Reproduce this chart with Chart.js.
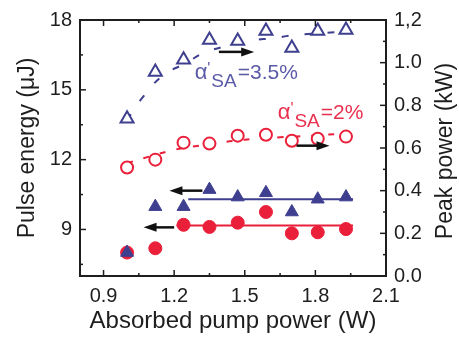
<!DOCTYPE html>
<html>
<head>
<meta charset="utf-8">
<script src="https://cdn.jsdelivr.net/npm/chart.js@4.4.1/dist/chart.umd.min.js"></script>
<style>
  html, body { margin: 0; padding: 0; background: #fff; }
  #wrap { width: 459px; height: 340px; }
</style>
</head>
<body>
<div id="wrap"><canvas id="chart"></canvas></div>
<script>
// measured points
const pumpPower = [1.0, 1.12, 1.24, 1.35, 1.47, 1.59, 1.70, 1.81, 1.93];
const energy35 = [13.76, 15.77, 16.29, 17.14, 17.1, 17.53, 16.8, 17.53, 17.57];
const energy2 = [11.66, 12.0, 12.73, 12.69, 13.03, 13.07, 12.81, 12.9, 12.99];
const peak35 = [0.11, 0.325, 0.325, 0.405, 0.37, 0.39, 0.30, 0.36, 0.37];
const peak2 = [0.11, 0.13, 0.24, 0.23, 0.25, 0.30, 0.20, 0.205, 0.22];

// fitted curves
const fitX35 = [1.0, 1.06, 1.15, 1.25, 1.33, 1.45, 1.53, 1.62, 1.71, 1.8, 1.93];
const fitY35 = [13.7, 14.6, 15.6, 16.15, 16.6, 16.95, 17.12, 17.22, 17.35, 17.42, 17.5];
const fitX2 = [1.0, 1.1, 1.2, 1.28, 1.38, 1.45, 1.55, 1.65, 1.79, 1.89, 1.95];
const fitY2 = [11.85, 12.15, 12.42, 12.56, 12.7, 12.8, 12.9, 12.96, 13.03, 13.1, 13.12];
const flatX35 = [1.26, 1.96];
const flatY35 = [0.36, 0.36];
const flatX2 = [1.21, 1.96];
const flatY2 = [0.237, 0.237];

const xTicks = [0.9, 1.2, 1.5, 1.8, 2.1];
const energyTicks = [9, 12, 15, 18];
const peakTicks = [0, 0.2, 0.4, 0.6, 0.8, 1.0, 1.2];

const BLUE = '#3f3f8f';
const RED = '#ea1f3a';
const FONT = '"Liberation Sans", Arial, sans-serif';
const INK = '#1e1e1e';

const pts = (xs, ys) => xs.map((x, i) => ({ x: x, y: ys[i] }));

// arrows and labels, in data units
const arrows = [
  { axis: 'y', x1: 1.39, x2: 1.54, y: 16.63 },
  { axis: 'y', x1: 1.72, x2: 1.86, y: 12.6 },
  { axis: 'y2', x1: 1.32, x2: 1.18, y: 0.40 },
  { axis: 'y2', x1: 1.20, x2: 1.07, y: 0.228 }
];
const labels = [
  { x: 1.287, y: 15.47, color: '#5a5aa8', text: '=3.5%' },
  { x: 1.640, y: 13.76, color: '#e8304e', text: '=2%' }
];

const decor = {
  id: 'decor',
  afterDraw(chart) {
    const ctx = chart.ctx;
    const a = chart.chartArea;
    const sx = chart.scales.x, sy = chart.scales.y, sy2 = chart.scales.y2;
    ctx.save();
    ctx.strokeStyle = INK;
    ctx.lineWidth = 1.5;
    const tick = (x1, y1, x2, y2) => { ctx.beginPath(); ctx.moveTo(x1, y1); ctx.lineTo(x2, y2); ctx.stroke(); };
    xTicks.forEach((v, i) => {
      const px = sx.getPixelForValue(v);
      tick(px, a.bottom, px, a.bottom - 6);
      tick(px, a.top, px, a.top + 6);
      if (i > 0) {
        const mx = sx.getPixelForValue((v + xTicks[i - 1]) / 2);
        tick(mx, a.bottom, mx, a.bottom - 3);
        tick(mx, a.top, mx, a.top + 3);
      }
    });
    energyTicks.forEach(v => {
      const py = sy.getPixelForValue(v);
      tick(a.left, py, a.left + 6, py);
      const my = sy.getPixelForValue(v - 1.5);
      tick(a.left, my, a.left + 3, my);
    });
    peakTicks.forEach((v, i) => {
      const py = sy2.getPixelForValue(v);
      tick(a.right, py, a.right - 6, py);
      if (i > 0) {
        const my = sy2.getPixelForValue((v + peakTicks[i - 1]) / 2);
        tick(a.right, my, a.right - 3, my);
      }
    });
    ctx.lineWidth = 2;
    ctx.strokeRect(a.left, a.top, a.right - a.left, a.bottom - a.top);

    // arrows
    ctx.fillStyle = '#111';
    ctx.strokeStyle = '#111';
    ctx.lineWidth = 2.5;
    arrows.forEach(ar => {
      const s = chart.scales[ar.axis];
      const x1 = sx.getPixelForValue(ar.x1), x2 = sx.getPixelForValue(ar.x2);
      const y = s.getPixelForValue(ar.y);
      const dir = x2 > x1 ? 1 : -1;
      tick(x1, y, x2 - dir * 10, y);
      ctx.beginPath();
      ctx.moveTo(x2, y);
      ctx.lineTo(x2 - dir * 13, y - 4.5);
      ctx.lineTo(x2 - dir * 13, y + 4.5);
      ctx.closePath();
      ctx.fill();
    });

    // alpha'_SA labels
    labels.forEach(lb => {
      let x = sx.getPixelForValue(lb.x);
      const y = sy.getPixelForValue(lb.y);
      ctx.fillStyle = lb.color;
      ctx.textBaseline = 'alphabetic';
      ctx.textAlign = 'left';
      ctx.font = '22px ' + FONT;
      ctx.fillText('\u03b1', x, y);
      x += ctx.measureText('\u03b1').width;
      ctx.font = '16px ' + FONT;
      ctx.fillText("'", x, y - 5);
      x += 4;
      ctx.font = '19px ' + FONT;
      ctx.fillText('SA', x, y + 8);
      x += ctx.measureText('SA').width + 1;
      ctx.font = '21px ' + FONT;
      ctx.fillText(lb.text, x, y);
    });

    // right axis title, reading bottom to top
    ctx.fillStyle = INK;
    ctx.font = '23px ' + FONT;
    ctx.textAlign = 'center';
    ctx.textBaseline = 'middle';
    ctx.translate(446, (a.top + a.bottom) / 2 + 3);
    ctx.rotate(-Math.PI / 2);
    ctx.fillText('Peak power (kW)', 0, 0);
    ctx.restore();
  }
};

const tickFont = { family: FONT, size: 20 };

new Chart(document.getElementById('chart'), {
  type: 'scatter',
  data: {
    datasets: [
      {
        label: 'peak 3.5%', data: pts(pumpPower, peak35), yAxisID: 'y2',
        pointStyle: 'triangle', pointRadius: 7.5, backgroundColor: BLUE, borderColor: BLUE, borderWidth: 1
      },
      {
        label: 'peak 2%', data: pts(pumpPower, peak2), yAxisID: 'y2',
        pointStyle: 'circle', pointRadius: 6.5, backgroundColor: RED, borderColor: RED, borderWidth: 1
      },
      {
        label: 'energy 3.5%', data: pts(pumpPower, energy35), yAxisID: 'y',
        pointStyle: 'triangle', pointRadius: 7.5, backgroundColor: '#fff', borderColor: BLUE, borderWidth: 2
      },
      {
        label: 'energy 2%', data: pts(pumpPower, energy2), yAxisID: 'y',
        pointStyle: 'circle', pointRadius: 6, backgroundColor: '#fff', borderColor: RED, borderWidth: 2
      },
      {
        label: 'flat 3.5%', data: pts(flatX35, flatY35), yAxisID: 'y2', showLine: true,
        borderColor: BLUE, borderWidth: 2, pointRadius: 0
      },
      {
        label: 'flat 2%', data: pts(flatX2, flatY2), yAxisID: 'y2', showLine: true,
        borderColor: RED, borderWidth: 2, pointRadius: 0
      },
      {
        label: 'fit 3.5%', data: pts(fitX35, fitY35), yAxisID: 'y', showLine: true, tension: 0.4,
        borderColor: BLUE, borderWidth: 2, borderDash: [7, 16], pointRadius: 0
      },
      {
        label: 'fit 2%', data: pts(fitX2, fitY2), yAxisID: 'y', showLine: true, tension: 0.4,
        borderColor: RED, borderWidth: 2, borderDash: [6, 11], pointRadius: 0
      }
    ]
  },
  options: {
    responsive: true,
    maintainAspectRatio: false,
    animation: false,
    layout: { padding: { top: 18, left: 0, right: 0, bottom: 0 } },
    plugins: { legend: { display: false }, tooltip: { enabled: false } },
    scales: {
      x: {
        type: 'linear', min: 0.8, max: 2.1,
        afterBuildTicks: s => { s.ticks = xTicks.map(v => ({ value: v })); },
        afterFit: s => { s.height = 64; },
        grid: { display: false, drawTicks: false },
        border: { display: false },
        ticks: { padding: 8, color: INK, font: tickFont, callback: v => v.toFixed(1) },
        title: { display: true, text: 'Absorbed pump power (W)', color: INK, font: { family: FONT, size: 24 }, padding: { top: 0, bottom: 4 } }
      },
      y: {
        position: 'left', min: 7, max: 18,
        afterBuildTicks: s => { s.ticks = energyTicks.map(v => ({ value: v })); },
        afterFit: s => { s.width = 80; },
        grid: { display: false, drawTicks: false },
        border: { display: false },
        ticks: { padding: 8, color: INK, font: tickFont },
        title: { display: true, text: 'Pulse energy (\u03bcJ)', color: INK, font: { family: FONT, size: 23 }, padding: { top: 14, bottom: 0 } }
      },
      y2: {
        position: 'right', min: 0, max: 1.2,
        afterBuildTicks: s => { s.ticks = peakTicks.map(v => ({ value: v })); },
        afterFit: s => { s.width = 73; },
        grid: { display: false, drawTicks: false },
        border: { display: false },
        ticks: { padding: 8, color: INK, font: tickFont, callback: v => v === 1.2 ? '1,2' : v.toFixed(1) }
      }
    }
  },
  plugins: [decor]
});
</script>
</body>
</html>
